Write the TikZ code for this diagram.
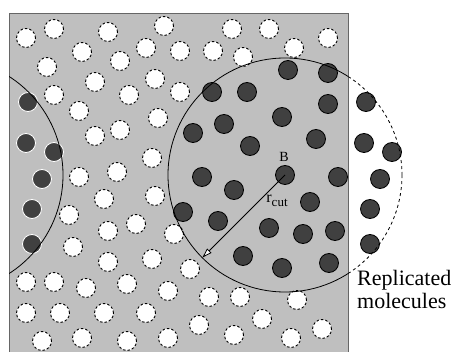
\documentclass[tikz,border=0pt]{standalone}
\usepackage{fontspec}
\setmainfont{Liberation Serif}
\usetikzlibrary{calc,arrows.meta}

\begin{document}
\begin{tikzpicture}[x=1pt,y=-1pt,
  hole/.style={fill=white,draw=black,dash pattern=on 2.5pt off 2pt,line width=0.9pt},
  mol/.style={fill=black!75,draw=black,line width=0.8pt},
  ghost/.style={fill=black!75,draw=white,line width=0.8pt}]
\useasboundingbox (0,0) rectangle (454,352);
\filldraw [fill=black!25, draw=black!60, line width=0.8pt] (9,13) rectangle (348,353);
\coordinate (B) at (285,175);
\coordinate (A) at (-54,175);
% empty sites
\foreach \x/\y in {26/38,54/29,108/32,164/26,232/29,269/29,328/38,82/52,120/61,146/48,
  180/51,213/51,294/48,243/57,47/67,95/82,155/79,180/92,54/95,129/95,79/111,158/118,
  95/136,120/130,152/158,79/177,117/172,104/199,155/196,69/215,108/231,136/224,174/234,
  73/247,108/262,152/259,190/269,26/282,54/282,86/288,127/284,168/291,209/297,240/297,
  297/300,26/313,60/313,104/313,146/313,199/325,262/319,322/329,42/341,82/338,127/341,
  168/338,234/335,291/338}
  \draw [hole] (\x,\y) circle [radius=9.5pt];
% molecules round B
\foreach \x/\y in {288/70,328/73,212/92,247/92,328/104,282/117,224/124,193/133,250/146,
  316/139,285/175,338/177,202/177,234/190,310/202,183/212,218/221,269/228,303/234,
  335/231,243/256,282/268,329/263}
  \draw [mol] (\x,\y) circle [radius=9.5pt];
% left images and their copies on the right
\foreach \x/\y in {28/102,26/143,54/152,42/179,32/209,32/244} {
  \draw [ghost] (\x,\y) circle [radius=9.5pt];
  \draw [mol] (\x+338,\y) circle [radius=9.5pt];
}
\begin{scope}
\clip (9,13) rectangle (348,353);
\draw [line width=0.8pt] (A) circle [radius=117pt];
\draw [line width=0.8pt] (B) circle [radius=117pt];
\end{scope}
\begin{scope}
\clip (348,0) rectangle (454,352);
\draw [line width=0.8pt, dash pattern=on 3pt off 3pt] (B) circle [radius=117pt];
\end{scope}
\coordinate (rc) at ($(B)+(-82.7,82.7)$);
\draw [line width=0.8pt, -{Triangle[length=10pt,width=6pt,fill=white]}] (B) -- (rc);
\node [font=\fontsize{14}{16}\selectfont] (lblB) at (284,157) {B};
\node [font=\fontsize{16}{18}\selectfont] (lblr) at (277,201) {r\raisebox{-3.5pt}{\fontsize{13}{13}\selectfont cut}};
\node [anchor=base west, font=\fontsize{22}{23}\selectfont, inner sep=0pt] (rep) at (357,285) {Replicated};
\node [anchor=base west, font=\fontsize{22}{23}\selectfont, inner sep=0pt] (mols) at ($(rep.base west)+(0,23)$) {molecules};
\end{tikzpicture}
\end{document}
